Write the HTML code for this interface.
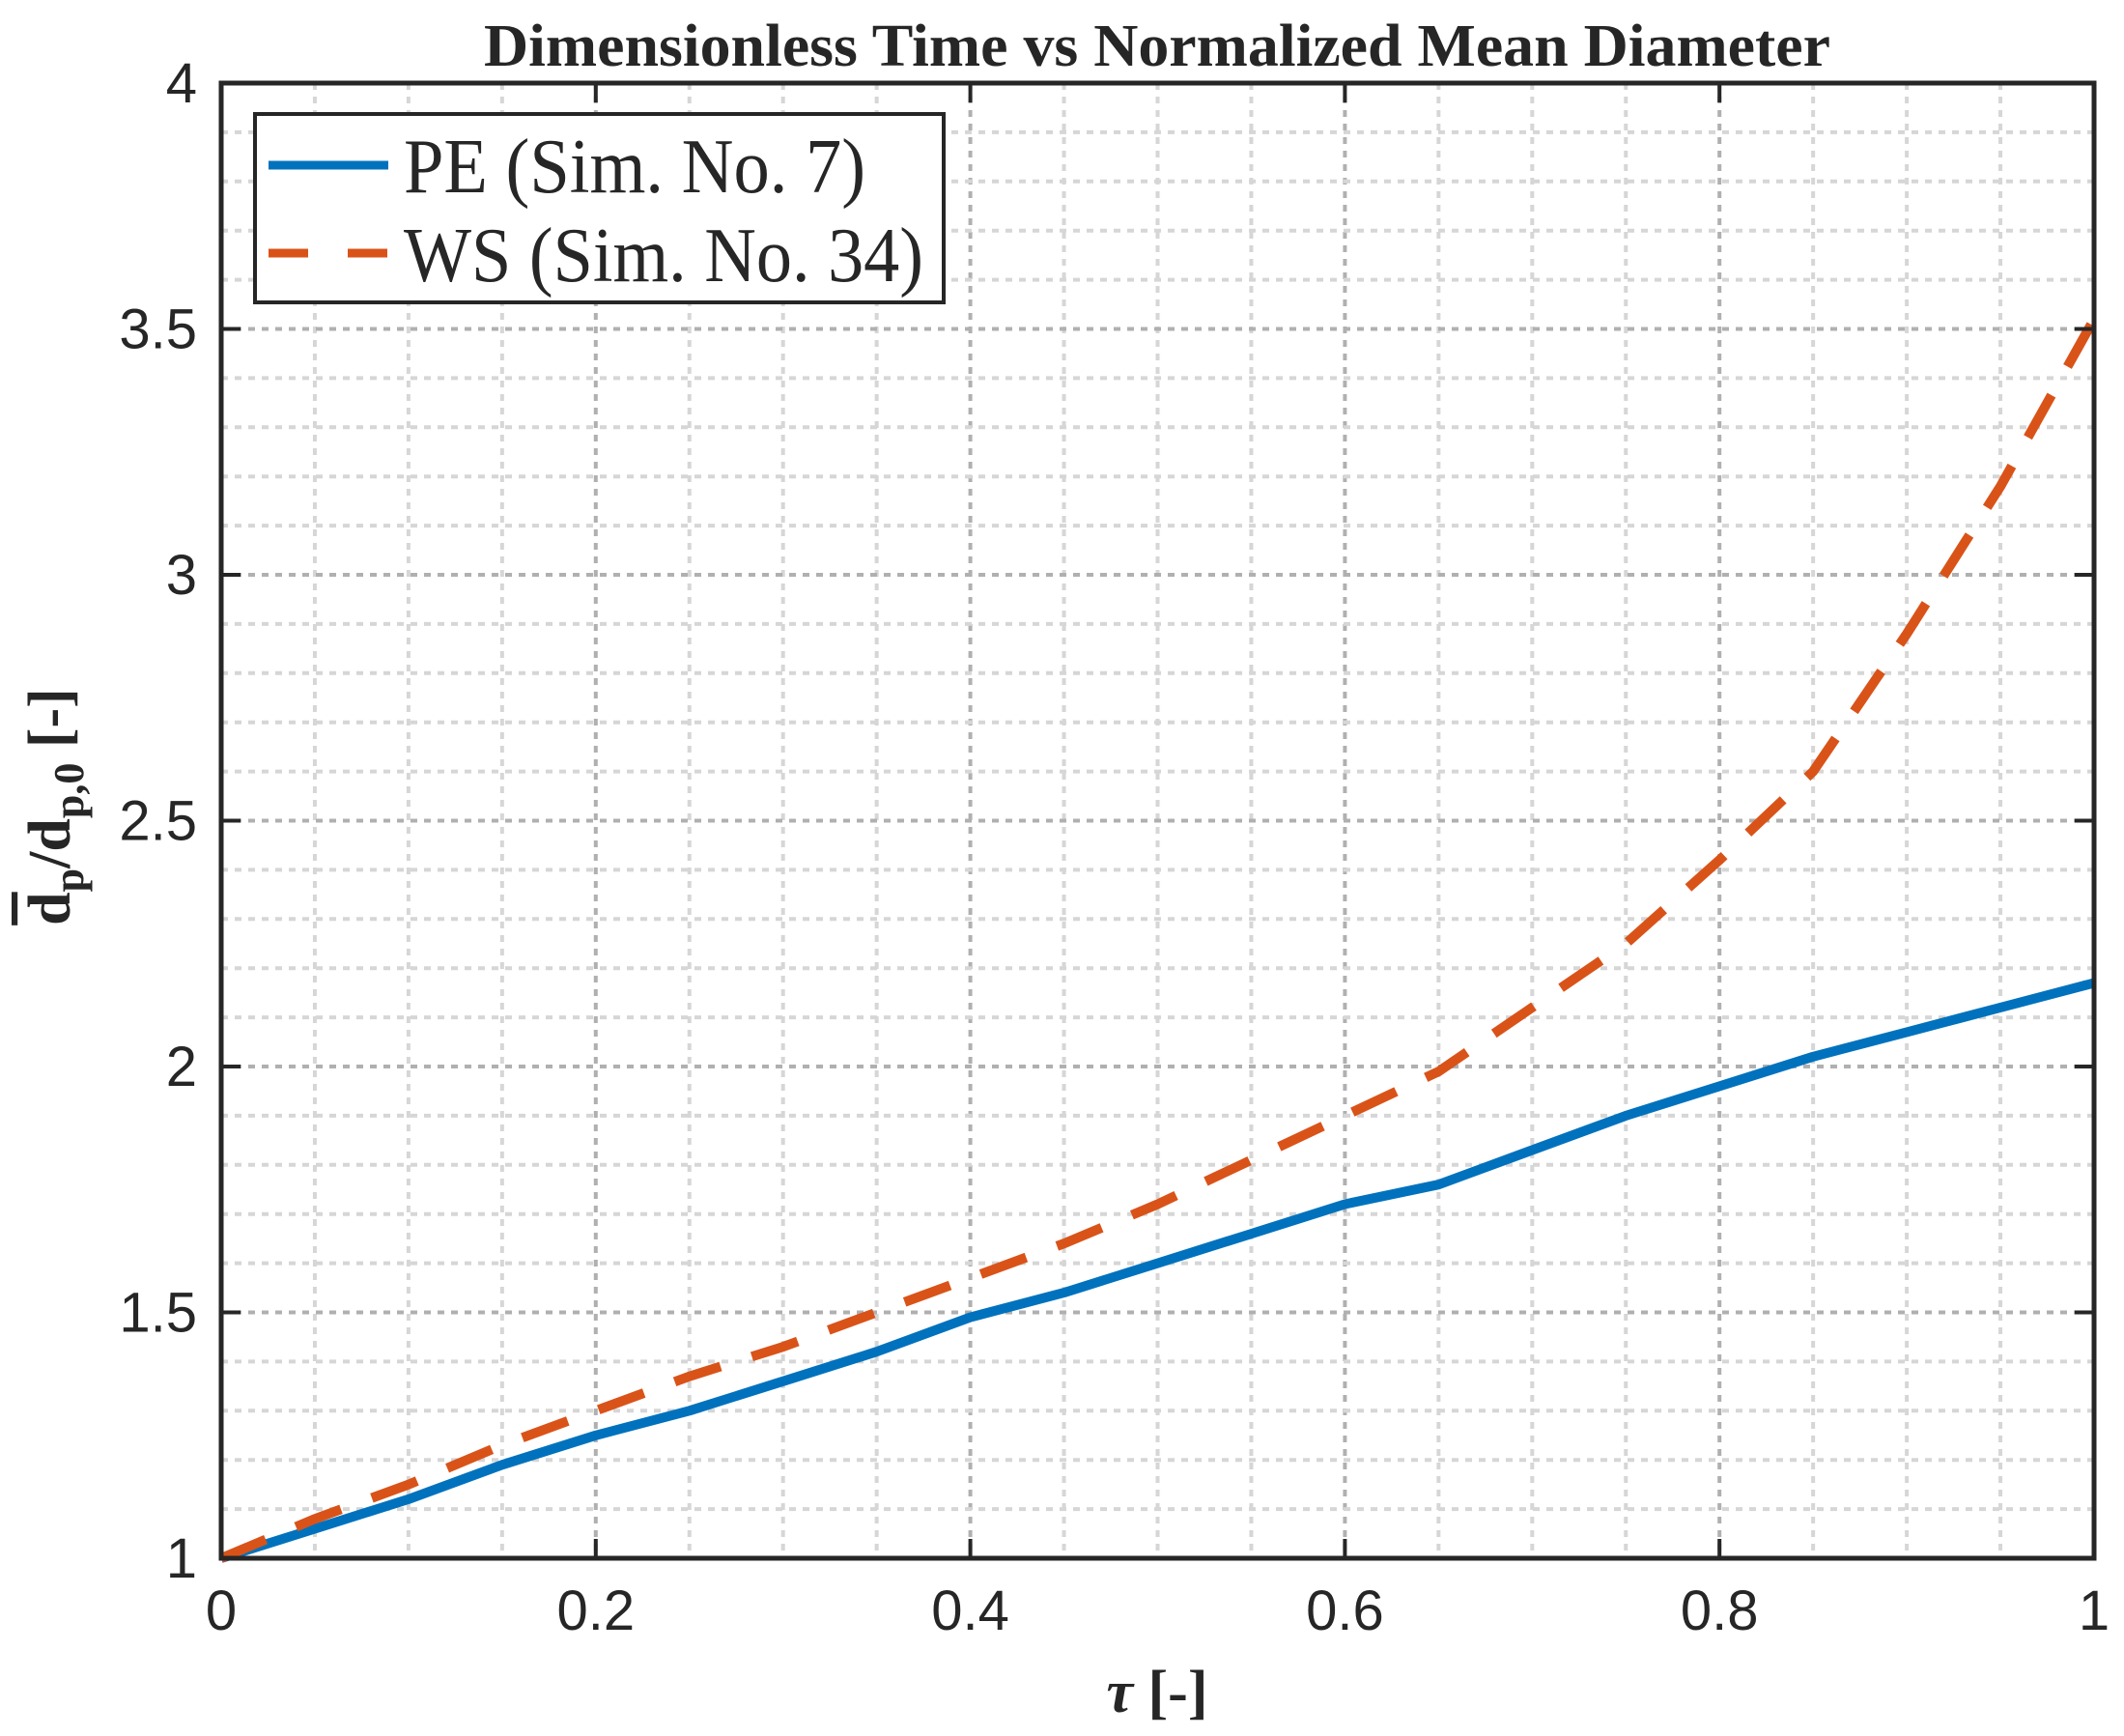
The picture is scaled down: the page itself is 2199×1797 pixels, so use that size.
<!DOCTYPE html>
<html><head><meta charset="utf-8"><style>html,body{margin:0;padding:0;background:#fff}svg{display:block}</style></head>
<body>
<svg id="chart" width="2199" height="1797" viewBox="0 0 2199 1797" xmlns="http://www.w3.org/2000/svg">
<rect width="2199" height="1797" fill="#fff"/>
<g id="grid"></g>
<g id="series"></g>
<rect x="229" y="86" width="1939" height="1527" fill="none" stroke="#262626" stroke-width="5"/>
<g id="ticks"></g>
<text x="1198" y="68" text-anchor="middle" font-family="Liberation Serif, serif" font-weight="bold" font-size="62" textLength="1394" lengthAdjust="spacingAndGlyphs" fill="#262626">Dimensionless Time vs Normalized Mean Diameter</text>
<text x="1198" y="1772" text-anchor="middle" font-family="Liberation Serif, serif" font-weight="bold" font-size="62" fill="#262626"><tspan font-style="italic">τ</tspan> [-]</text>
<text transform="translate(72,835) rotate(-90)" text-anchor="middle" font-family="Liberation Serif, serif" font-weight="bold" font-size="62" fill="#262626"><tspan text-decoration="overline">d</tspan><tspan font-size="44" dy="14">p</tspan><tspan dy="-14">/d</tspan><tspan font-size="44" dy="14">p,0</tspan><tspan dy="-14"> [-]</tspan></text>
<g>
<rect x="264" y="118" width="713" height="195" fill="#fff" stroke="#262626" stroke-width="4"/>
<line x1="278" y1="171" x2="402" y2="171" stroke="#0072BD" stroke-width="9"/>
<text x="418" y="199" font-family="Liberation Serif, serif" font-size="80" textLength="478" lengthAdjust="spacingAndGlyphs" fill="#262626">PE (Sim. No. 7)</text>
<line x1="278" y1="262" x2="402" y2="262" stroke="#D95319" stroke-width="9" stroke-dasharray="41,41"/>
<text x="418" y="291" font-family="Liberation Serif, serif" font-size="80" textLength="538" lengthAdjust="spacingAndGlyphs" fill="#262626">WS (Sim. No. 34)</text>
</g>
</svg>
<script>
const xTicks = [0, 0.2, 0.4, 0.6, 0.8, 1];
const xTickLabels = ["0", "0.2", "0.4", "0.6", "0.8", "1"];
const yTicks = [1, 1.5, 2, 2.5, 3, 3.5, 4];
const yTickLabels = ["1", "1.5", "2", "2.5", "3", "3.5", "4"];
const tau = [0, 0.05, 0.1, 0.15, 0.2, 0.25, 0.3, 0.35, 0.4, 0.45, 0.5, 0.55, 0.6, 0.65, 0.7, 0.75, 0.8, 0.85, 0.9, 0.92, 0.95, 1.0];
const pe = [1.0, 1.06, 1.12, 1.19, 1.25, 1.30, 1.36, 1.42, 1.49, 1.54, 1.60, 1.66, 1.72, 1.76, 1.83, 1.90, 1.96, 2.02, 2.07, 2.09, 2.12, 2.17];
const ws = [1.0, 1.08, 1.15, 1.23, 1.30, 1.37, 1.43, 1.50, 1.57, 1.64, 1.72, 1.81, 1.90, 1.99, 2.12, 2.25, 2.42, 2.60, 2.88, 3.0, 3.18, 3.52];

const L = 229, R = 2168, T = 86, B = 1613;
const xs = v => L + (v - 0) / (1 - 0) * (R - L);
const ys = v => B - (v - 1) / (4 - 1) * (B - T);
const NS = "http://www.w3.org/2000/svg";
function mk(tag, attrs, parent) {
  const e = document.createElementNS(NS, tag);
  for (const k in attrs) e.setAttribute(k, attrs[k]);
  parent.appendChild(e);
  return e;
}
const grid = document.getElementById('grid');
const ticks = document.getElementById('ticks');
const series = document.getElementById('series');

for (let i = 1; i < 20; i++) {
  const v = i * 0.05;
  const major = i % 4 === 0;
  const g = mk('line', {x1: xs(v), x2: xs(v), y1: T, y2: B, stroke: major ? '#b0b0b0' : '#d6d6d6', 'stroke-width': 4, 'stroke-dasharray': '7,7'}, grid);
  
  
}
for (let i = 1; i < 30; i++) {
  const v = 1 + i * 0.1;
  const major = i % 5 === 0;
  const g = mk('line', {x1: L, x2: R, y1: ys(v), y2: ys(v), stroke: major ? '#b0b0b0' : '#d6d6d6', 'stroke-width': 4, 'stroke-dasharray': '7,7'}, grid);
  
  
}
xTicks.forEach((v, i) => {
  const t1 = mk('line', {x1: xs(v), x2: xs(v), y1: B, y2: B - 20, stroke: '#262626', 'stroke-width': 4}, ticks);
  
  
  const t2 = mk('line', {x1: xs(v), x2: xs(v), y1: T, y2: T + 20, stroke: '#262626', 'stroke-width': 4}, ticks);
  
  
  const tx = mk('text', {x: xs(v), y: 1687, 'text-anchor': 'middle', 'font-family': 'Liberation Sans, sans-serif', 'font-size': 58, fill: '#262626'}, ticks);
  tx.textContent = xTickLabels[i];
  
  
});
yTicks.forEach((v, i) => {
  const t1 = mk('line', {x1: L, x2: L + 20, y1: ys(v), y2: ys(v), stroke: '#262626', 'stroke-width': 4}, ticks);
  
  
  const t2 = mk('line', {x1: R, x2: R - 20, y1: ys(v), y2: ys(v), stroke: '#262626', 'stroke-width': 4}, ticks);
  
  
  const tx = mk('text', {x: 204, y: ys(v) + 20, 'text-anchor': 'end', 'font-family': 'Liberation Sans, sans-serif', 'font-size': 58, fill: '#262626'}, ticks);
  tx.textContent = yTickLabels[i];
  
  
});
function pathOf(arr) {
  return arr.map((v, i) => (i ? 'L' : 'M') + xs(tau[i]).toFixed(1) + ',' + ys(v).toFixed(1)).join(' ');
}
const p1 = mk('path', {d: pathOf(pe), fill: 'none', stroke: '#0072BD', 'stroke-width': 10, 'stroke-linejoin': 'round'}, series);


const p2 = mk('path', {d: pathOf(ws), fill: 'none', stroke: '#D95319', 'stroke-width': 10, 'stroke-dasharray': '50,34'}, series);


</script>
</body></html>
